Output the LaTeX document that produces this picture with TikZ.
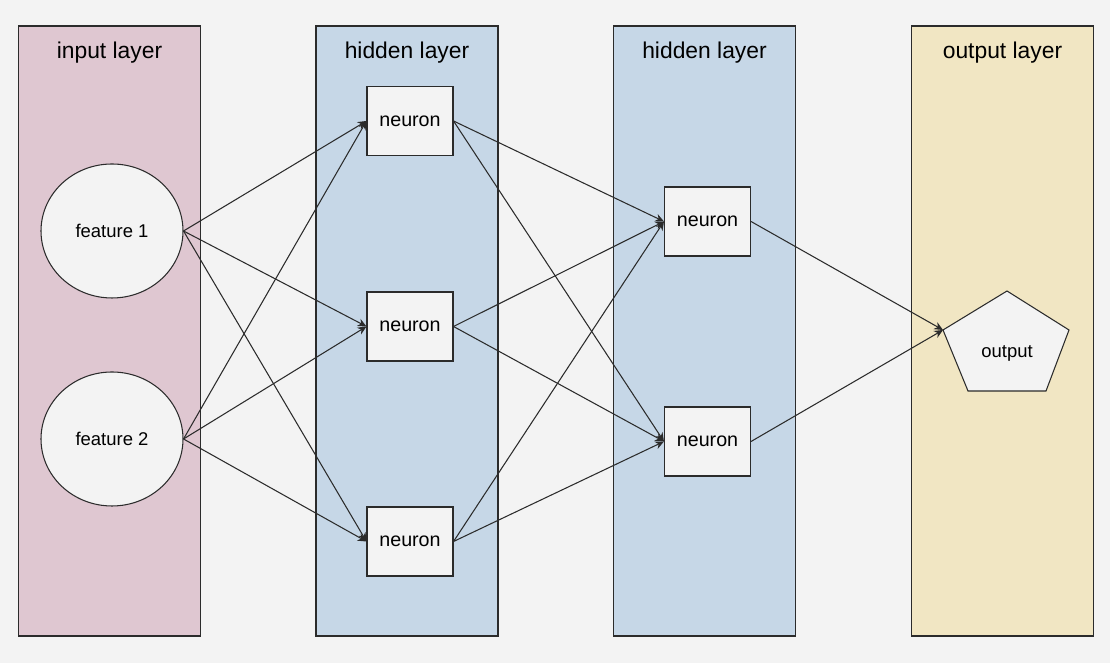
\documentclass[tikz,border=0pt]{standalone}
\usepackage{fontspec}
\setmainfont{Liberation Sans}
\usetikzlibrary{shapes.geometric,arrows.meta}
\definecolor{pagebg}{HTML}{F3F3F3}
\definecolor{inputbg}{HTML}{DFC7D1}
\definecolor{hiddenbg}{HTML}{C6D7E7}
\definecolor{outputbg}{HTML}{F1E6C3}
\definecolor{edgecol}{HTML}{2B2B2B}
\tikzstyle{layer}=[draw=edgecol, line width=0.6pt, minimum width=3.64cm, minimum height=12.2cm, inner sep=0pt]
\tikzstyle{title}=[anchor=base, font=\fontsize{13}{15}\selectfont]
\tikzstyle{feature}=[ellipse, draw=edgecol, line width=0.6pt, fill=pagebg, minimum width=2.84cm, minimum height=2.68cm, font=\fontsize{10.5}{12}\selectfont]
\tikzstyle{neuron}=[rectangle, draw=edgecol, line width=0.6pt, fill=pagebg, minimum width=1.72cm, minimum height=1.38cm, font=\fontsize{11.2}{13}\selectfont]

\begin{document}
\begin{tikzpicture}[edge/.style={draw=edgecol, line width=0.6pt, -{Stealth[length=5pt, width=4.5pt]}}]
        \useasboundingbox[fill=pagebg] (0,0) rectangle (22.2,13.26);

        % Layer backgrounds with their titles
        \node (L1) at (2.19,6.64) [layer, fill=inputbg] {};
        \node (L2) at (8.14,6.64) [layer, fill=hiddenbg] {};
        \node (L3) at (14.09,6.64) [layer, fill=hiddenbg] {};
        \node (L4) at (20.05,6.64) [layer, fill=outputbg] {};
        \node (T1) at (2.19,12.08) [title] {input layer};
        \node (T2) at (8.14,12.08) [title] {hidden layer};
        \node (T3) at (14.09,12.08) [title] {hidden layer};
        \node (T4) at (20.05,12.08) [title] {output layer};

        % Input features
        \node (f1) at (2.24,8.64) [feature] {feature 1};
        \node (f2) at (2.24,4.48) [feature] {feature 2};

        % First hidden layer
        \node (a1) at (8.2,10.84) [neuron] {neuron};
        \node (a2) at (8.2,6.73)  [neuron] {neuron};
        \node (a3) at (8.2,2.43)  [neuron] {neuron};

        % Second hidden layer
        \node (b1) at (14.15,8.83) [neuron] {neuron};
        \node (b2) at (14.15,4.43) [neuron] {neuron};

        % Output pentagon (flattened)
        \coordinate (oT) at (20.14,7.44);
        \coordinate (oL) at (18.86,6.66);
        \coordinate (oR) at (21.38,6.66);
        \coordinate (oBR) at (20.92,5.44);
        \coordinate (oBL) at (19.36,5.44);
        \draw[draw=edgecol, line width=0.6pt, fill=pagebg, line join=miter] (oT) -- (oR) -- (oBR) -- (oBL) -- (oL) -- cycle;
        \node (out) at (20.14,6.2) [font=\fontsize{10.5}{12}\selectfont] {output};

        % Connections
        \draw[edge] (f1.east) -- (a1.west);
        \draw[edge] (f1.east) -- (a2.west);
        \draw[edge] (f1.east) -- (a3.west);
        \draw[edge] (f2.east) -- (a1.west);
        \draw[edge] (f2.east) -- (a2.west);
        \draw[edge] (f2.east) -- (a3.west);

        \draw[edge] (a1.east) -- (b1.west);
        \draw[edge] (a1.east) -- (b2.west);
        \draw[edge] (a2.east) -- (b1.west);
        \draw[edge] (a2.east) -- (b2.west);
        \draw[edge] (a3.east) -- (b1.west);
        \draw[edge] (a3.east) -- (b2.west);

        \draw[edge] (b1.east) -- (oL);
        \draw[edge] (b2.east) -- (oL);
    \end{tikzpicture}
\end{document}
